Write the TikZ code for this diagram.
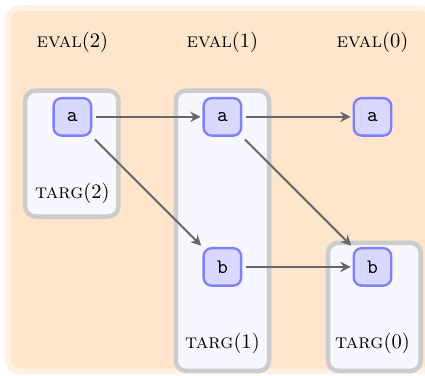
\documentclass[tikz,border=0pt]{standalone}
\usetikzlibrary{arrows.meta,positioning}

\begin{document}
\begin{tikzpicture}[
    node distance=2.8cm, on grid,
    every node/.style={font=\fontsize{10.9}{13}\selectfont},
    cell/.style={draw=blue!50, fill=blue!15, line width=1.25pt, rounded corners=0.15cm, minimum size=0.7cm, inner sep=0pt},
    frame/.style={draw=black!20, fill=blue!3, line width=2.4pt, rounded corners=0.19cm},
    lbl/.style={inner sep=0pt},
    link/.style={-{Stealth[length=5.5pt, width=5.5pt, inset=1.8pt]}, draw=black!60, line width=1.05pt, shorten <=2pt, shorten >=1pt}
]
\useasboundingbox (0,0) rectangle (7.93,-7);
% background and column frames
\draw[fill=orange!20, draw=orange!10, line width=3pt, rounded corners=0.22cm] (0.15,-0.15) rectangle (8.06,-6.93);
\draw[frame] (0.47,-1.69) rectangle (2.21,-4.04);
\draw[frame] (3.28,-1.69) rectangle (5.02,-6.92);
\draw[frame] (6.12,-4.53) rectangle (7.85,-6.92);

\node[cell] (a2) at (1.35,-2.18) {\texttt{a}};
\node[cell, right=of a2] (a1) {\texttt{a}};
\node[cell, right=of a1] (a0) {\texttt{a}};
\node[cell, below=of a1] (b1) {\texttt{b}};
\node[cell, below=of a0] (b0) {\texttt{b}};

\node[lbl, above=1.39cm of a2] (eval2) {\textsc{eval}(2)};
\node[lbl, above=1.39cm of a1] (eval1) {\textsc{eval}(1)};
\node[lbl, above=1.39cm of a0] (eval0) {\textsc{eval}(0)};
\node[lbl, below=1.42cm of a2] (targ2) {\textsc{targ}(2)};
\node[lbl, below=1.42cm of b1] (targ1) {\textsc{targ}(1)};
\node[lbl, below=1.42cm of b0] (targ0) {\textsc{targ}(0)};

\draw[link] (a2) -- (a1);
\draw[link] (a1) -- (a0);
\draw[link] (a2) -- (b1);
\draw[link] (a1) -- (b0);
\draw[link] (b1) -- (b0);
\end{tikzpicture}
\end{document}
